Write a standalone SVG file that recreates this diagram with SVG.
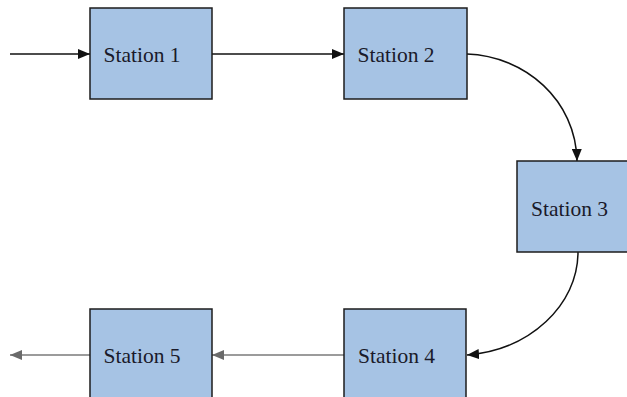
<svg xmlns="http://www.w3.org/2000/svg" width="627" height="397" viewBox="0 0 627 397">
<style>
.box{fill:#a6c3e4;stroke:#1c1c1c;stroke-width:1.5}
.lbl{font-family:'Liberation Serif','DejaVu Serif',serif;font-size:21.5px;fill:#1a1a2a}
.blk{fill:none;stroke:#111;stroke-width:1.5}
.gry{fill:none;stroke:#7a7a7a;stroke-width:1.5}
</style>
<defs>
<marker id="ab" markerWidth="12" markerHeight="10" refX="12" refY="5" orient="auto" markerUnits="userSpaceOnUse"><path d="M0,0 L12,5 L0,10 z" fill="#111"/></marker>
<marker id="ag" markerWidth="12" markerHeight="10" refX="12" refY="5" orient="auto" markerUnits="userSpaceOnUse"><path d="M0,0 L12,5 L0,10 z" fill="#6a6a6a"/></marker>
</defs>
<rect width="627" height="397" fill="#fff"/>
<g id="connectors">
<path class="blk" d="M10,54 L90,54" marker-end="url(#ab)"/>
<path class="blk" d="M212,54 L344,54" marker-end="url(#ab)"/>
<path class="blk" d="M467,54 C525,56 576,100 577,161" marker-end="url(#ab)"/>
<path class="blk" d="M578,252 C578,305 530,350 467,355" marker-end="url(#ab)"/>
<path class="gry" d="M344,355 L212,355" marker-end="url(#ag)"/>
<path class="gry" d="M90,355 L10,355" marker-end="url(#ag)"/>
</g>
<g id="station1"><rect class="box" x="90" y="8" width="122" height="91"/><text class="lbl" x="103.5" y="62">Station 1</text></g>
<g id="station2"><rect class="box" x="344" y="8" width="123" height="91"/><text class="lbl" x="357.5" y="62">Station 2</text></g>
<g id="station3"><rect class="box" x="517" y="161" width="122" height="91"/><text class="lbl" x="531" y="216">Station 3</text></g>
<g id="station4"><rect class="box" x="344" y="309" width="122" height="91"/><text class="lbl" x="358" y="363">Station 4</text></g>
<g id="station5"><rect class="box" x="90" y="309" width="122" height="91"/><text class="lbl" x="103.5" y="363">Station 5</text></g>
</svg>
